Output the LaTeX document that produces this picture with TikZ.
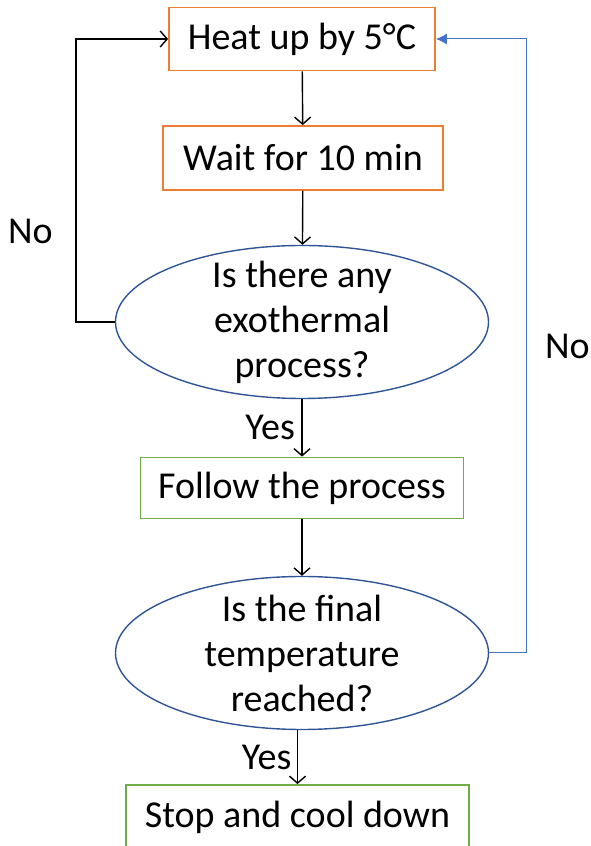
\documentclass[tikz,border=0pt]{standalone}
\usepackage{fontspec}
\setmainfont{Carlito}
\definecolor{BoxOrange}{HTML}{ED7D31}
\definecolor{BoxGreen}{HTML}{70AD47}
\definecolor{EllBlue}{HTML}{2F5597}
\definecolor{LoopBlue}{HTML}{4472C4}
\usetikzlibrary{arrows.meta, positioning, shapes.geometric}

\begin{document}
\begin{tikzpicture}[x=1pt, y=1pt,
    font=\fontsize{38}{45}\selectfont,
    stepbox/.style={draw, line width=1.8pt, inner sep=0pt, minimum height=63pt},
    question/.style={draw=EllBlue, line width=1.4pt, ellipse, align=center,
      inner xsep=0pt, inner ysep=-20pt, minimum width=373pt, minimum height=153pt},
    flow/.style={line width=1.4pt, -{Straight Barb[length=7pt, width=16pt]}},
    back/.style={LoopBlue, line width=1pt, -{Latex[length=11pt, width=11pt]}}]
  \useasboundingbox (0,0) rectangle (590,846);
  \clip (0,0) rectangle (590,846);
  % Steps and questions
  \node[stepbox, draw=BoxOrange, minimum width=266pt] (heat) at (302,807) {Heat up by 5°C};
  \node[stepbox, draw=BoxOrange, minimum width=280pt, minimum height=64pt] (wait) at (303,688) {Wait for 10 min};
  \node[question] (exo) at (302,524) {Is there any\\exothermal\\process?};
  \node[stepbox, draw=BoxGreen, minimum width=323pt, minimum height=61pt] (follow) at (302,358) {Follow the process};
  \node[question] (final) at (302,193) {Is the final\\temperature\\reached?};
  \node[stepbox, draw=BoxGreen, minimum width=343pt, minimum height=64pt] (stop) at (297.5,29) {Stop and cool down};
  % Main flow
  \draw[flow] (heat) -- (wait);
  \draw[flow] (wait) -- (exo);
  \draw[flow] (exo) -- node[left=3pt] {Yes} (follow);
  \draw[flow] (follow) -- (final);
  \draw[flow] (final.south -| stop.north) -- node[left=2pt] {Yes} (stop);
  % Loops back to heating
  \draw[flow] (exo.west) -- ++(-39,0) |- node[pos=0.16, left=19pt] {No} (heat.west);
  \draw[back] (final.east) -- ++(37,0) |- node[pos=0.25, right=15pt, text=black] {No} (heat.east);
\end{tikzpicture}
\end{document}
